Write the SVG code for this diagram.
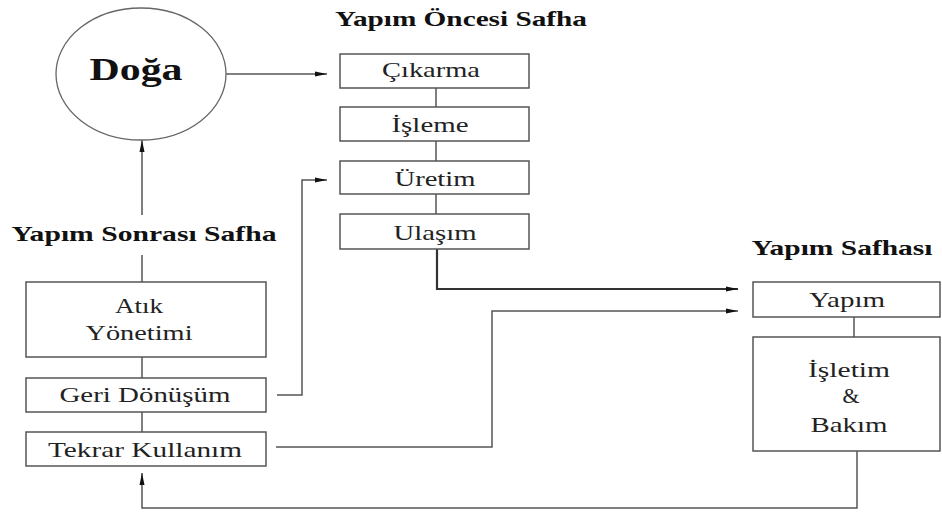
<svg xmlns="http://www.w3.org/2000/svg" width="942" height="513" viewBox="0 0 942 513">
<style>
.box{fill:#fff;stroke:#555;stroke-width:1.5}
.ln{fill:none;stroke:#555;stroke-width:1.5}
.t{font-family:'Liberation Serif','Times New Roman',serif;font-size:21px;fill:#222;text-anchor:middle}
.h{font-family:'Liberation Serif','Times New Roman',serif;font-size:21px;font-weight:bold;fill:#111;text-anchor:middle}
</style>
<defs>
<marker id="ar" viewBox="0 0 12 6" refX="12" refY="3" markerWidth="12" markerHeight="6" markerUnits="userSpaceOnUse" orient="auto">
<path d="M0,0.5 L12,3 L0,5.5 Z" fill="#111"/>
</marker>
</defs>
<rect width="942" height="513" fill="#fff"/>
<g id="connectors">
<path class="ln" d="M226,74 H327" marker-end="url(#ar)"/>
<path class="ln" d="M436,88 V107 M436,141 V161 M436,194 V214"/>
<path class="ln" d="M142,282 V255 M142,215 V140" marker-end="url(#ar)"/>
<path class="ln" d="M142,357 V378 M142,412 V432"/>
<path class="ln" d="M277,395 H302 V180 H327" marker-end="url(#ar)"/>
<path class="ln" style="stroke-width:2.2;stroke:#333" d="M437,249 V289 H738" marker-end="url(#ar)"/>
<path class="ln" d="M276,447 H492 V311 H738" marker-end="url(#ar)"/>
<path class="ln" d="M854,317 V337"/>
<path class="ln" d="M857,451 V508 H142 V473" marker-end="url(#ar)"/>
</g>
<g id="titles">
<text class="h" x="461" y="26" textLength="252" lengthAdjust="spacingAndGlyphs">Yapım Öncesi Safha</text>
<text class="h" x="144" y="241" textLength="265" lengthAdjust="spacingAndGlyphs">Yapım Sonrası Safha</text>
<text class="h" x="842" y="255" textLength="181" lengthAdjust="spacingAndGlyphs">Yapım Safhası</text>
</g>
<g id="doga">
<ellipse cx="141" cy="74" rx="85" ry="66" fill="#fff" stroke="#666" stroke-width="1.3"/>
<text class="h" x="136" y="80" style="font-size:31px" textLength="93" lengthAdjust="spacingAndGlyphs">Doğa</text>
</g>
<g id="cikarma"><rect class="box" x="340" y="54" width="189" height="34"/><text class="t" x="431" y="77" textLength="98" lengthAdjust="spacingAndGlyphs">Çıkarma</text></g>
<g id="isleme"><rect class="box" x="340" y="107" width="189" height="34"/><text class="t" x="430" y="132" textLength="77" lengthAdjust="spacingAndGlyphs">İşleme</text></g>
<g id="uretim"><rect class="box" x="340" y="161" width="189" height="33"/><text class="t" x="435" y="186" textLength="81" lengthAdjust="spacingAndGlyphs">Üretim</text></g>
<g id="ulasim"><rect class="box" x="340" y="214" width="189" height="35"/><text class="t" x="435" y="240" textLength="83" lengthAdjust="spacingAndGlyphs">Ulaşım</text></g>
<g id="atik"><rect class="box" x="26" y="282" width="240" height="75"/><text class="t" x="139" y="313" textLength="48" lengthAdjust="spacingAndGlyphs">Atık</text><text class="t" x="139" y="340" textLength="107" lengthAdjust="spacingAndGlyphs">Yönetimi</text></g>
<g id="geri"><rect class="box" x="26" y="378" width="240" height="34"/><text class="t" x="145" y="402" textLength="171" lengthAdjust="spacingAndGlyphs">Geri Dönüşüm</text></g>
<g id="tekrar"><rect class="box" x="26" y="432" width="240" height="34"/><text class="t" x="145" y="457" textLength="194" lengthAdjust="spacingAndGlyphs">Tekrar Kullanım</text></g>
<g id="yapim"><rect class="box" x="753" y="282" width="187" height="35"/><text class="t" x="847" y="307" textLength="76" lengthAdjust="spacingAndGlyphs">Yapım</text></g>
<g id="isletim"><rect class="box" x="753" y="337" width="187" height="114"/><text class="t" x="849" y="377" textLength="82" lengthAdjust="spacingAndGlyphs">İşletim</text><text class="t" x="851" y="403" textLength="17" lengthAdjust="spacingAndGlyphs">&amp;</text><text class="t" x="849" y="432" textLength="77" lengthAdjust="spacingAndGlyphs">Bakım</text></g>
</svg>
